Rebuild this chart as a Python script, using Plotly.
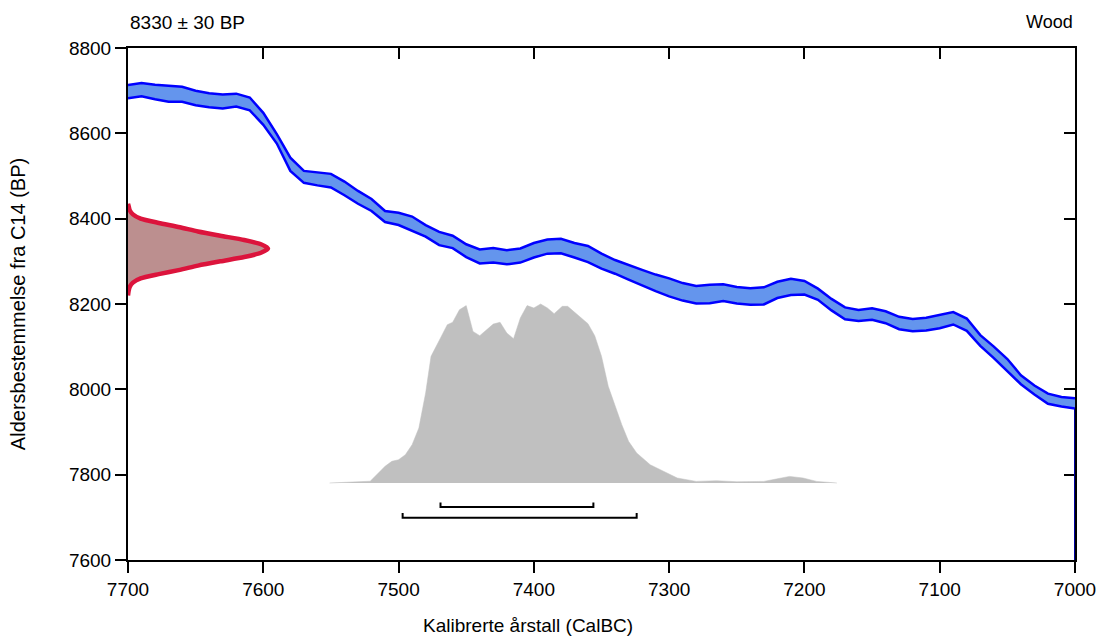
import plotly.graph_objects as go

# ---- Calibration curve (IntCal band) ----
CAL_YEAR = [7700, 7690, 7680, 7670, 7660, 7650, 7640, 7630, 7620, 7610,
            7600, 7590, 7580, 7570, 7560, 7550, 7540, 7530, 7520, 7510,
            7500, 7490, 7480, 7470, 7460, 7450, 7440, 7430, 7420, 7410,
            7400, 7390, 7380, 7370, 7360, 7350, 7340, 7330, 7320, 7310,
            7300, 7290, 7280, 7270, 7260, 7250, 7240, 7230, 7220, 7210,
            7200, 7190, 7180, 7170, 7160, 7150, 7140, 7130, 7120, 7110,
            7100, 7090, 7080, 7070, 7060, 7050, 7040, 7030, 7020, 7010, 7000]
CAL_UPPER = [8713, 8718, 8714, 8711, 8709, 8700, 8694, 8691, 8693, 8684,
             8648, 8598, 8543, 8512, 8509, 8505, 8487, 8465, 8446, 8418,
             8414, 8405, 8385, 8369, 8360, 8340, 8328, 8331, 8326, 8330,
             8343, 8351, 8353, 8343, 8336, 8318, 8303, 8291, 8280, 8269,
             8260, 8249, 8242, 8245, 8246, 8240, 8237, 8239, 8252, 8259,
             8254, 8236, 8212, 8192, 8186, 8190, 8183, 8170, 8165, 8168,
             8174, 8181, 8166, 8127, 8100, 8071, 8033, 8009, 7990, 7982, 7979]
CAL_LOWER = [8682, 8687, 8680, 8674, 8674, 8666, 8661, 8658, 8663, 8654,
             8620, 8576, 8512, 8484, 8478, 8473, 8455, 8435, 8418, 8392,
             8385, 8372, 8358, 8338, 8331, 8310, 8295, 8297, 8293, 8297,
             8309, 8318, 8319, 8309, 8298, 8283, 8271, 8257, 8243, 8230,
             8218, 8208, 8201, 8202, 8207, 8201, 8198, 8199, 8214, 8221,
             8222, 8210, 8185, 8164, 8160, 8163, 8155, 8141, 8136, 8138,
             8143, 8152, 8137, 8102, 8073, 8043, 8012, 7988, 7966, 7960, 7955]

# ---- Radiocarbon date distribution (8330 +/- 30 BP), relative density ----
RED_BP = [8435, 8430, 8420, 8410, 8400, 8390, 8380, 8370, 8360, 8350, 8340,
          8330, 8320, 8310, 8300, 8290, 8280, 8270, 8260, 8250, 8240, 8230, 8220]
RED_DENS = [0.0, 0.004, 0.012, 0.035, 0.09, 0.22, 0.37, 0.50, 0.66, 0.83, 0.95,
            1.0, 0.95, 0.83, 0.66, 0.50, 0.37, 0.22, 0.09, 0.035, 0.012, 0.004, 0.0]

# ---- Calibrated distribution, relative probability ----
GREY_YEAR = [7551, 7521, 7510, 7505, 7500, 7495, 7490, 7485, 7480, 7476,
             7469, 7464, 7460, 7455, 7450, 7445, 7440, 7435, 7430, 7425,
             7420, 7415, 7410, 7405, 7400, 7395, 7390, 7385, 7379, 7375,
             7370, 7365, 7360, 7355, 7350, 7345, 7340, 7335, 7330, 7324,
             7314, 7304, 7294, 7280, 7265, 7250, 7230, 7221, 7211, 7201,
             7191, 7176]
GREY_P = [0.0, 0.01, 0.093, 0.121, 0.130, 0.158, 0.214, 0.307, 0.503, 0.708,
          0.810, 0.884, 0.898, 0.968, 0.991, 0.847, 0.823, 0.853, 0.888, 0.898,
          0.838, 0.806, 0.922, 0.991, 0.978, 1.0, 0.978, 0.946, 0.987, 0.987,
          0.954, 0.922, 0.890, 0.823, 0.708, 0.540, 0.428, 0.326, 0.233, 0.168,
          0.102, 0.065, 0.028, 0.009, 0.013, 0.007, 0.009, 0.022, 0.037, 0.028,
          0.009, 0.0]

# ---- Calibrated ranges (68.2 % and 95.4 %) ----
RANGE_68 = [7469, 7356]
RANGE_95 = [7497, 7324]

X_TICKS = [7700, 7600, 7500, 7400, 7300, 7200, 7100, 7000]
Y_TICKS = [7600, 7800, 8000, 8200, 8400, 8600, 8800]

LABEL_LEFT = "8330 ± 30 BP"
LABEL_RIGHT = "Wood"
X_TITLE = "Kalibrerte årstall (CalBC)"
Y_TITLE = "Aldersbestemmelse fra C14 (BP)"

FONT = "Liberation Sans"
FS = 19
W, H = 1100, 636
ML, MR, MT, MB = 128, 25, 48, 76
PLOT_W = W - ML - MR
PLOT_H = H - MT - MB

fig = go.Figure()

# calibration band
fig.add_trace(go.Scatter(x=CAL_YEAR, y=CAL_UPPER, mode="lines",
                         line=dict(color="#0000FF", width=2.5), hoverinfo="skip"))
fig.add_trace(go.Scatter(x=CAL_YEAR, y=CAL_LOWER, mode="lines", fill="tonexty",
                         fillcolor="#6495ED",
                         line=dict(color="#0000FF", width=2.5), hoverinfo="skip"))

# brackets for calibrated ranges
def bracket(rng, base, up):
    a, b = rng
    return go.Scatter(x=[a, a, b, b], y=[base + up, base, base, base + up],
                      mode="lines", line=dict(color="black", width=2),
                      hoverinfo="skip")

fig.add_trace(bracket(RANGE_68, 7724, 11))
fig.add_trace(bracket(RANGE_95, 7699, 11))

# radiocarbon distribution on the y axis (own hidden x axis)
peak_px = 140.0
fig.add_trace(go.Scatter(x=[0] + RED_DENS + [0], y=[RED_BP[0]] + RED_BP + [RED_BP[-1]],
                         xaxis="x3", yaxis="y", mode="lines", fill="toself",
                         fillcolor="#BC8F8F",
                         line=dict(color="#DC143C", width=4.5, shape="spline",
                                   smoothing=0.6), hoverinfo="skip"))

# calibrated distribution (own hidden y axis)
grey_peak_px = 179.0
base_px = 77.0
fig.add_trace(go.Scatter(x=GREY_YEAR, y=GREY_P, xaxis="x", yaxis="y3",
                         mode="lines", fill="tozeroy", fillcolor="#C0C0C0",
                         line=dict(color="#C0C0C0", width=0.5), hoverinfo="skip"))

axis_common = dict(showgrid=False, zeroline=False, linecolor="black", linewidth=2,
                   tickcolor="black", tickwidth=2, ticklen=11,
                   tickfont=dict(family=FONT, size=FS, color="black"))

fig.update_layout(
    width=W, height=H,
    margin=dict(l=ML, r=MR, t=MT, b=MB, autoexpand=False),
    paper_bgcolor="white", plot_bgcolor="white",
    showlegend=False,
    xaxis=dict(range=[7700, 7000], tickvals=X_TICKS, ticks="outside", showline=True,
               **axis_common),
    xaxis2=dict(range=[7700, 7000], tickvals=X_TICKS, ticks="inside", showline=True,
                overlaying="x", side="top", showticklabels=False, **axis_common),
    xaxis3=dict(range=[0, PLOT_W / peak_px], overlaying="x", visible=False),
    yaxis=dict(range=[7600, 8800], tickvals=Y_TICKS, ticks="outside", showline=True,
               title=dict(text=Y_TITLE, standoff=38,
                          font=dict(family=FONT, size=20, color="black")),
               **axis_common),
    yaxis2=dict(range=[7600, 8800], tickvals=Y_TICKS, ticks="inside", showline=True,
                overlaying="y", side="right", showticklabels=False, **axis_common),
    yaxis3=dict(range=[-base_px / grey_peak_px, (PLOT_H - base_px) / grey_peak_px],
                overlaying="y", visible=False),
)

# dummy trace so the mirrored axes are drawn
fig.add_trace(go.Scatter(x=[7700], y=[7600], xaxis="x2", yaxis="y2", mode="markers",
                         marker=dict(opacity=0), hoverinfo="skip"))

# blue edge running down the right border from the curve end
fig.add_shape(type="line", x0=CAL_YEAR[-1], x1=CAL_YEAR[-1], y0=CAL_LOWER[-1], y1=7600,
              xref="x", yref="y", line=dict(color="#0000A0", width=2), layer="above")

# x-axis title (placed left of centre, as in the reference)
fig.add_annotation(text=X_TITLE, xref="paper", yref="paper", x=0.4224, y=0,
                   xanchor="center", yanchor="middle", yshift=-65, showarrow=False,
                   font=dict(family=FONT, size=FS, color="black"))

fig.add_annotation(text=LABEL_LEFT, xref="paper", yref="paper", x=0, y=1,
                   xanchor="left", yanchor="middle", yshift=26, showarrow=False,
                   font=dict(family=FONT, size=FS, color="black"))
fig.add_annotation(text=LABEL_RIGHT, xref="paper", yref="paper", x=1, y=1,
                   xanchor="right", yanchor="middle", yshift=26, showarrow=False,
                   font=dict(family=FONT, size=18, color="black"))

# remove the default 8 px page margin so the figure fills the window exactly
fig.write_html("out.html", config={"displayModeBar": False},
               post_script="document.body.style.margin='0';document.body.style.overflow='hidden';")
